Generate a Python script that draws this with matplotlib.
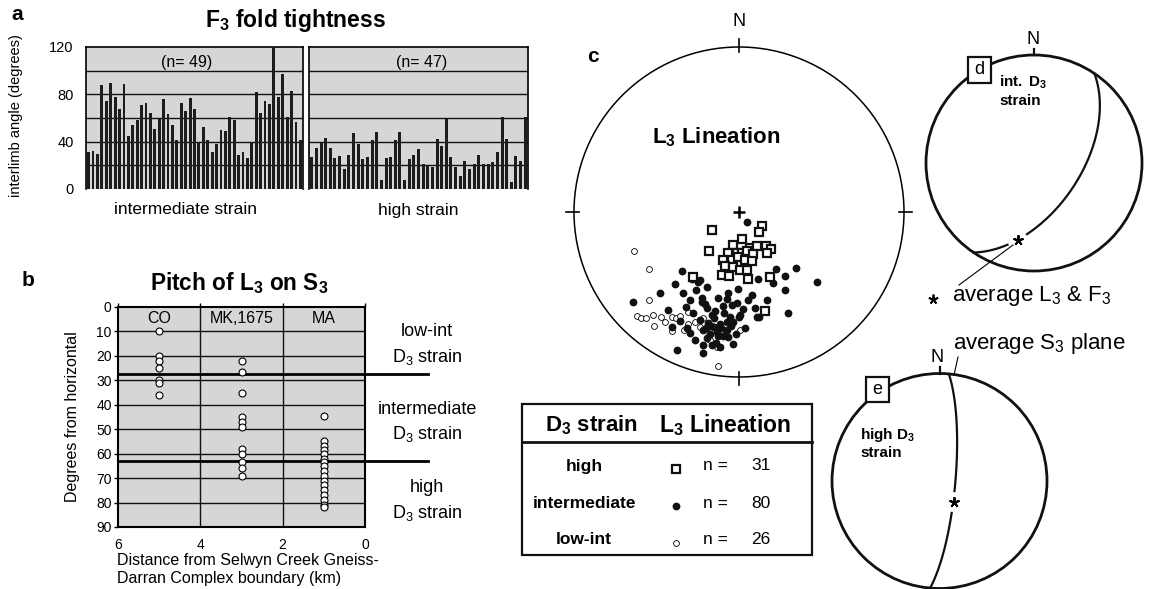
import numpy as np
import matplotlib
matplotlib.use('Agg')
import matplotlib.pyplot as plt
from matplotlib.patches import Circle, Rectangle

plt.rcParams['font.family'] = ['Liberation Sans', 'DejaVu Sans']
plt.rcParams['mathtext.fontset'] = 'custom'
plt.rcParams['mathtext.rm'] = 'Liberation Sans'
plt.rcParams['mathtext.it'] = 'Liberation Sans:italic'
plt.rcParams['mathtext.bf'] = 'Liberation Sans:bold'
plt.rcParams['mathtext.default'] = 'regular'

# ---- data ----
# a: interlimb angles of F3 folds (degrees)
angle_int = [31, 32, 30, 88, 74, 90, 78, 68, 89, 45, 54, 58, 71, 73, 64, 51, 60, 76, 63, 54,
             41, 73, 66, 77, 68, 39, 52, 41, 31, 38, 50, 49, 61, 58, 29, 31, 26, 40, 82, 64,
             74, 72, 120, 78, 97, 61, 83, 57, 41]
angle_high = [27, 35, 39, 43, 35, 26, 28, 17, 29, 47, 38, 25, 27, 41, 48, 8, 26, 27, 41, 48,
              8, 25, 29, 34, 21, 20, 19, 42, 36, 59, 27, 19, 11, 24, 17, 21, 29, 21, 21, 23,
              31, 61, 42, 6, 28, 24, 61]

# b: pitch of L3 on S3 vs distance from boundary (km)
sites = ['CO', 'MK,1675', 'MA']
site_km = [5.0, 3.0, 1.0]
pitch_co = [10, 20, 22, 25, 30, 31, 36]
pitch_mk = [22, 26.5, 35, 45, 47, 49, 58, 60, 63.5, 66, 69]
pitch_ma = [44.5, 55, 57, 58.5, 60, 62, 63.5, 65, 67, 69, 71, 73, 75, 77, 79, 81, 82]
strain_bounds = [27.5, 63]

# c: L3 lineations, equal-area net coordinates (east, north; net radius = 1)
high_x = [-0.162, 0.138, 0.123, -0.182, -0.038, 0.016, 0.067, 0.107, 0.164, 0.194, -0.065,
          -0.014, 0.016, 0.047, 0.087, 0.168, -0.095, -0.044, -0.004, 0.036, 0.077, -0.085,
          -0.035, 0.006, 0.047, -0.105, -0.059, 0.056, 0.188, -0.281, 0.158]
high_y = [-0.111, -0.085, -0.119, -0.236, -0.202, -0.165, -0.220, -0.206, -0.206, -0.226, -0.247,
          -0.250, -0.247, -0.235, -0.255, -0.247, -0.291, -0.291, -0.271, -0.291, -0.295, -0.327,
          -0.335, -0.352, -0.352, -0.382, -0.388, -0.404, -0.392, -0.392, -0.598]
inter_x = [0.047, 0.224, 0.345, 0.279, 0.208, 0.117, 0.279, 0.471, 0.295, -0.347, -0.388, -0.479,
           -0.338, -0.261, -0.236, -0.196, -0.226, -0.125, -0.065, -0.004, 0.056, -0.196, -0.145,
           -0.095, -0.044, -0.010, 0.097, 0.123, 0.002, -0.035, -0.075, -0.115, -0.152, -0.186,
           -0.236, -0.277, -0.321, -0.428, -0.404, -0.317, -0.297, -0.216, -0.176, -0.132, -0.099,
           -0.071, -0.050, -0.018, -0.196, -0.139, -0.065, -0.115, -0.216, -0.220, -0.378, -0.358,
           -0.165, -0.226, -0.152, -0.109, -0.172, 0.107, 0.006, -0.055, -0.200, -0.247, -0.287,
           -0.641, 0.036, -0.091, -0.164, -0.267, -0.036, 0.079, 0.170, -0.297, 0.024, -0.127,
           -0.206, -0.073]
inter_y = [-0.062, -0.345, -0.341, -0.390, -0.432, -0.406, -0.473, -0.422, -0.610, -0.358, -0.438,
           -0.493, -0.493, -0.473, -0.412, -0.456, -0.519, -0.523, -0.493, -0.467, -0.533, -0.584,
           -0.598, -0.570, -0.564, -0.553, -0.584, -0.635, -0.635, -0.665, -0.665, -0.679, -0.699,
           -0.675, -0.655, -0.614, -0.578, -0.594, -0.695, -0.705, -0.735, -0.715, -0.739, -0.725,
           -0.752, -0.715, -0.691, -0.739, -0.765, -0.792, -0.756, -0.816, -0.806, -0.856, -0.836,
           -0.659, -0.624, -0.544, -0.644, -0.705, -0.691, -0.635, -0.624, -0.635, -0.705, -0.422,
           -0.408, -0.544, -0.703, -0.612, -0.806, -0.776, -0.800, -0.503, -0.533, -0.533, -0.588,
           -0.752, -0.558, -0.527]
low_x = [-0.636, -0.544, -0.544, -0.620, -0.594, -0.519, -0.473, -0.513, -0.408, -0.382, -0.404,
         -0.311, -0.307, -0.125, -0.135, -0.059, -0.564, -0.448, -0.358, -0.236, -0.333, -0.091,
         0.006, -0.218, -0.267, -0.176]
low_y = [-0.235, -0.347, -0.533, -0.628, -0.644, -0.624, -0.635, -0.691, -0.635, -0.641, -0.721,
         -0.608, -0.679, -0.933, -0.816, -0.659, -0.642, -0.667, -0.630, -0.697, -0.715, -0.745,
         -0.715, -0.642, -0.667, -0.776]
table_rows = ['high', 'intermediate', 'low-int']
table_n = [31, 80, 26]

# d, e: average S3 plane (strike, dip) and average L3 (trend, plunge)
plane_d = (34, 55)
lin_d = (192, 28)
plane_e = (5, 78)
lin_e = (146, 71)

W, H = 1150, 589
fig = plt.figure(figsize=(11.5, 5.89), dpi=100)


def box(x0, y0, x1, y1):
    return [x0 / W, 1 - y1 / H, (x1 - x0) / W, (y1 - y0) / H]


def ea(trend, plunge):
    r = np.sqrt(2) * np.sin(np.radians(90 - np.asarray(plunge)) / 2)
    t = np.radians(trend)
    return r * np.sin(t), r * np.cos(t)


def great_circle(strike, dip, n=400):
    st, dp, dd = np.radians(strike), np.radians(dip), np.radians(strike + 90)
    s = np.array([np.sin(st), np.cos(st), 0.0])
    d = np.array([np.cos(dp) * np.sin(dd), np.cos(dp) * np.cos(dd), np.sin(dp)])
    rk = np.radians(np.linspace(0, 180, n))
    v = np.outer(np.cos(rk), s) + np.outer(np.sin(rk), d)
    trend = np.degrees(np.arctan2(v[:, 0], v[:, 1]))
    plunge = np.degrees(np.arcsin(np.clip(v[:, 2], -1, 1)))
    return ea(trend, plunge)


def net_axes(cx, cy, R, pad):
    half = R * pad
    ax = fig.add_axes(box(cx - half, cy - half, cx + half, cy + half))
    ax.set_xlim(-pad, pad)
    ax.set_ylim(-pad, pad)
    ax.set_aspect('equal')
    ax.axis('off')
    return ax


GREY = '#d6d6d6'

# ---- panel a ----
ax1 = fig.add_axes(box(86, 47, 303, 189))
ax2 = fig.add_axes(box(309, 47, 528, 189))
for ax, vals in ((ax1, angle_int), (ax2, angle_high)):
    ax.set_facecolor(GREY)
    ax.bar(np.arange(len(vals)), vals, width=0.64, color='#1c1c1c', zorder=3)
    for g in range(20, 120, 20):
        ax.axhline(g, color='#111111', lw=1, zorder=2)
    ax.set_xlim(-0.6, len(vals) - 0.4)
    ax.set_ylim(0, 120)
    ax.set_xticks([])
    ax.spines['bottom'].set_visible(False)
    for s in ('left', 'right', 'top'):
        ax.spines[s].set_linewidth(1.2)
ax1.set_yticks([0, 40, 80, 120])
ax1.tick_params(axis='y', length=0, pad=9, labelsize=10.5)
ax2.set_yticks([])

# ---- panel b ----
axb = fig.add_axes(box(118, 307, 365, 527))
axb.set_facecolor(GREY)
axb.set_xlim(6, 0)
axb.set_ylim(90, 0)
for g in range(10, 90, 10):
    axb.axhline(g, color='#111111', lw=1, zorder=1)
for g in (4, 2):
    axb.axvline(g, color='#111111', lw=1, zorder=1)
axb.set_yticks(range(0, 91, 10))
axb.set_xticks([6, 4, 2, 0])
axb.tick_params(axis='y', length=3, width=1, pad=1.5, labelsize=10)
axb.tick_params(axis='x', top=True, bottom=False, labeltop=False, labelbottom=True,
                length=3, width=1, pad=5, labelsize=10)
for s in axb.spines.values():
    s.set_linewidth(1.5)
for km, vals in zip(site_km, (pitch_co, pitch_mk, pitch_ma)):
    axb.plot([km] * len(vals), vals, 'o', mfc='white', mec='k', ms=5, mew=0.8, zorder=4)
for name, km in zip(sites, site_km):
    axb.text(km, 4.6, name, ha='center', va='center', fontsize=11.5, zorder=5)
for b in strain_bounds:
    axb.plot([6, -1.53], [b, b], color='k', lw=2, clip_on=False, zorder=3)

# ---- panel c ----
axc = net_axes(739, 212, 165, 1.2)
axc.add_patch(Circle((0, 0), 1, fill=False, lw=1.1, color='k'))
for ang in (0, 90, 180, 270):
    a = np.radians(ang)
    axc.plot([0.97 * np.sin(a), 1.05 * np.sin(a)], [0.97 * np.cos(a), 1.05 * np.cos(a)],
             color='k', lw=1.2)
axc.plot(low_x, low_y, 'o', mfc='white', mec='k', ms=4.2, mew=0.6, zorder=3)
axc.plot(inter_x, inter_y, 'o', color='#111111', ms=4.6, zorder=4)
axc.plot(high_x, high_y, 's', mfc='white', mec='#111111', ms=5.6, mew=1.6, zorder=5)
axc.plot(0, 0, '+', color='k', ms=8, mew=1.8, zorder=6)

# ---- panels d, e ----
for (cx, cy, R), (stk, dp), (tr, pl) in (((1034, 163, 108), plane_d, lin_d),
                                          ((939.5, 481, 107.5), plane_e, lin_e)):
    ax = net_axes(cx, cy, R, 1.3)
    ax.add_patch(Circle((0, 0), 1, fill=False, lw=2, color='#111111'))
    ax.plot([0, 0], [1, 1.06], color='#111111', lw=1.6)
    gx, gy = great_circle(stk, dp)
    lx, ly = ea(tr, pl)
    far = np.hypot(gx - lx, gy - ly) > 0.1
    gx = np.where(far, gx, np.nan)
    gy = np.where(far, gy, np.nan)
    ax.plot(gx, gy, color='#111111', lw=1.6)
    ax.plot(lx, ly, marker=(5, 2, 0), color='k', ms=7.5, mew=1.4)

# ---- annotation layer (figure pixels) ----
ov = fig.add_axes([0, 0, 1, 1])
ov.set_xlim(0, W)
ov.set_ylim(H, 0)
ov.axis('off')

bold = dict(fontweight='bold')
ov.text(17, 15, 'a', ha='center', va='center', fontsize=15, **bold)
ov.text(296, 20, r'$\mathbf{F_3\ fold\ tightness}$', ha='center', va='center', fontsize=16.5)
ov.text(16, 116, 'interlimb angle (degrees)', rotation=90, ha='center', va='center', fontsize=10.5)
ov.text(187, 62, '(n= 49)', ha='center', va='center', fontsize=11.5)
ov.text(422, 62, '(n= 47)', ha='center', va='center', fontsize=11.5)
ov.text(185, 210, 'intermediate strain', ha='center', va='center', fontsize=12.5)
ov.text(418, 210, 'high strain', ha='center', va='center', fontsize=12.5)

ov.text(28, 281, 'b', ha='center', va='center', fontsize=15, **bold)
ov.text(239, 283, r'$\mathbf{Pitch\ of\ L_3\ on\ S_3}$', ha='center', va='center', fontsize=16.3)
ov.text(72, 417, 'Degrees from horizontal', rotation=90, ha='center', va='center', fontsize=11.5)
ov.text(117, 560, 'Distance from Selwyn Creek Gneiss-', ha='left', va='center', fontsize=11.5)
ov.text(117, 578, 'Darran Complex boundary (km)', ha='left', va='center', fontsize=11.5)
for label, y in (('low-int', 332), ('D$_3$ strain', 357), ('intermediate', 410),
                 ('D$_3$ strain', 434), ('high', 488), ('D$_3$ strain', 513)):
    ov.text(427, y, label, ha='center', va='center', fontsize=13)

ov.text(739, 22, 'N', ha='center', va='center', fontsize=13)
ov.text(593, 57, 'c', ha='center', va='center', fontsize=15, **bold)
ov.text(652, 137, r'$\mathbf{L_3\ Lineation}$', ha='left', va='center', fontsize=16)

# table
ov.add_patch(Rectangle((522, 404), 290, 151, fill=False, lw=1.6, ec='#111111'))
ov.plot([522, 812], [442, 442], color='#111111', lw=2)
ov.text(545, 425, r'$\mathbf{D_3\ strain}$', ha='left', va='center', fontsize=16)
ov.text(659, 425, r'$\mathbf{L_3\ Lineation}$', ha='left', va='center', fontsize=16.5)
row_y = [466, 503, 540]
for name, n, y in zip(table_rows, table_n, row_y):
    ov.text(584, y, name, ha='center', va='center', fontsize=12.5, **bold)
    ov.text(703, y, 'n =', ha='left', va='center', fontsize=12.5)
    ov.text(751, y, str(n), ha='left', va='center', fontsize=12.5)
ov.plot(676, row_y[0] + 3, 's', mfc='white', mec='#111111', ms=5.4, mew=1.6)
ov.plot(676, row_y[1] + 3, 'o', color='#111111', ms=4.6)
ov.plot(676, row_y[2] + 3, 'o', mfc='white', mec='k', ms=4.2, mew=0.6)

# d / e labels
ov.text(1033, 40, 'N', ha='center', va='center', fontsize=13)
ov.add_patch(Rectangle((968, 57), 23, 26, fc='white', ec='#111111', lw=1.6, zorder=5))
ov.text(979.5, 70, 'd', ha='center', va='center', fontsize=13, zorder=6)
ov.text(999, 82, r'$\mathbf{int.\ D_3}$', ha='left', va='center', fontsize=11)
ov.text(999, 101, 'strain', ha='left', va='center', fontsize=11, **bold)

ov.text(937, 357, 'N', ha='center', va='center', fontsize=13)
ov.add_patch(Rectangle((866, 377), 23, 25, fc='white', ec='#111111', lw=1.6, zorder=5))
ov.text(877.5, 389.5, 'e', ha='center', va='center', fontsize=13, zorder=6)
ov.text(860, 435, r'$\mathbf{high\ D_3}$', ha='left', va='center', fontsize=11)
ov.text(860, 453, 'strain', ha='left', va='center', fontsize=11, **bold)

ov.plot(933, 299, marker=(5, 2, 0), color='k', ms=7, mew=1.3)
ov.text(952, 296, 'average L$_3$ & F$_3$', ha='left', va='center', fontsize=16)
ov.plot([1013, 959], [245, 285], color='k', lw=0.8)
ov.text(953, 343, 'average S$_3$ plane', ha='left', va='center', fontsize=16)
ov.plot([958, 954], [357, 375], color='k', lw=0.8)

fig.savefig('out.png', dpi=100)
